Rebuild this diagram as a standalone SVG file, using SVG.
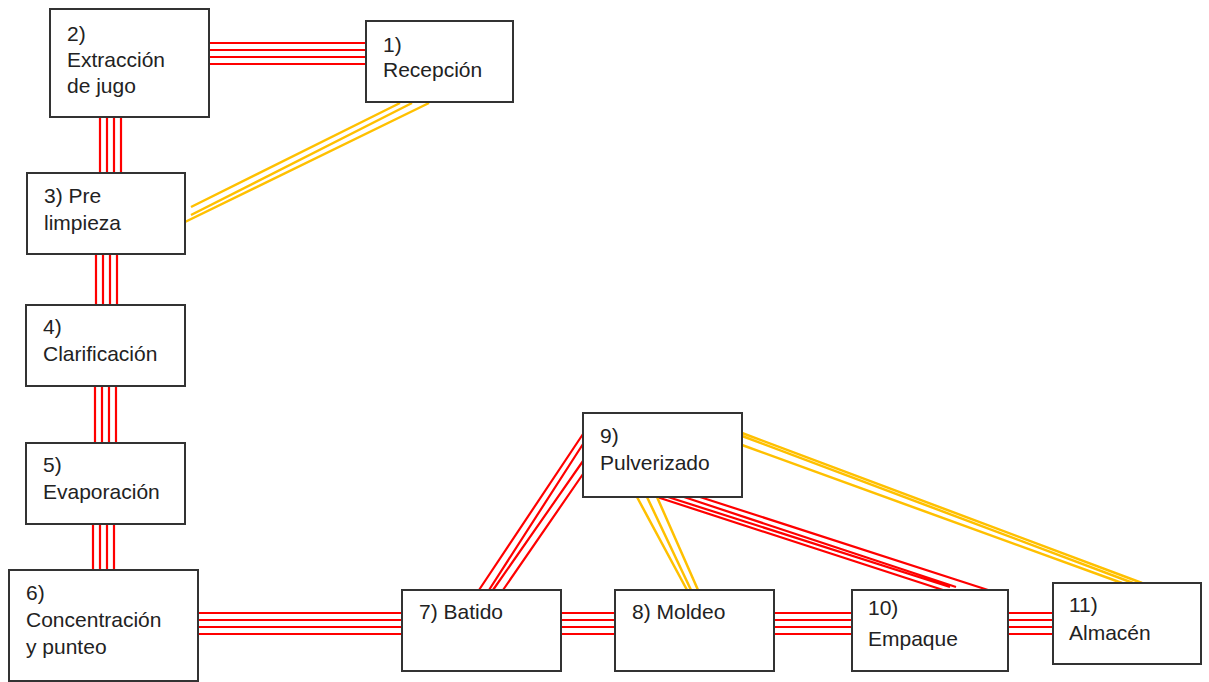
<svg xmlns="http://www.w3.org/2000/svg" width="1209" height="682" viewBox="0 0 1209 682">
<style>
.box{fill:#fff;stroke:#333;stroke-width:2}
.t{font-family:"Liberation Sans",Arial,sans-serif;font-size:21px;fill:#222}
.r{stroke:#ff0000;stroke-width:2.2;fill:none}
.y{stroke:#ffc000;stroke-width:2.5;fill:none}
</style>
<rect width="1209" height="682" fill="#fff"/>
<g id="connectors">
 <path class="r" d="M209 43H366M209 50H366M209 57H366M209 64H366"/>
 <path class="r" d="M100 117V173M107 117V173M114 117V173M121 117V173"/>
 <path class="r" d="M96 254V305M103 254V305M110 254V305M117 254V305"/>
 <path class="r" d="M95 386V443M102 386V443M109 386V443M116 386V443"/>
 <path class="r" d="M93 524V570M100 524V570M107 524V570M114 524V570"/>
 <path class="r" d="M198 613H402M198 620H402M198 627H402M198 634H402"/>
 <path class="r" d="M561 613H615M561 620H615M561 627H615M561 634H615"/>
 <path class="r" d="M774 613H852M774 620H852M774 627H852M774 634H852"/>
 <path class="r" d="M1008 613H1053M1008 620H1053M1008 627H1053M1008 634H1053"/>
 <path class="r" d="M583 434L479 590M583 444L489 590M583 461L493 590M583 474L503 590"/>
 <path class="r" d="M657 497L943 590M668 497L950 587M684 497L956 587M700 497L988 590"/>
 <path class="y" d="M400 103L191 207M412 103L191 215M429 103L185 222"/>
 <path class="y" d="M637 497L687 590M647 497L691 590M657 497L698 590"/>
 <path class="y" d="M742 433L1142 583M742 436L1133 583M742 445L1122 583"/>
</g>
<g id="n2"><rect class="box" x="50" y="9" width="159" height="108"/><text class="t" x="67" y="41">2)</text><text class="t" x="67" y="67">Extracción</text><text class="t" x="67" y="93">de jugo</text></g>
<g id="n1"><rect class="box" x="366" y="21" width="147" height="81"/><text class="t" x="383" y="52">1)</text><text class="t" x="383" y="77">Recepción</text></g>
<g id="n3"><rect class="box" x="27" y="173" width="158" height="81"/><text class="t" x="44" y="203">3) Pre</text><text class="t" x="44" y="230">limpieza</text></g>
<g id="n4"><rect class="box" x="26" y="305" width="159" height="81"/><text class="t" x="43" y="334">4)</text><text class="t" x="43" y="361">Clarificación</text></g>
<g id="n5"><rect class="box" x="26" y="443" width="159" height="81"/><text class="t" x="43" y="472">5)</text><text class="t" x="43" y="499">Evaporación</text></g>
<g id="n6"><rect class="box" x="9" y="570" width="189" height="111"/><text class="t" x="26" y="600">6)</text><text class="t" x="26" y="627">Concentración</text><text class="t" x="26" y="654">y punteo</text></g>
<g id="n7"><rect class="box" x="402" y="590" width="159" height="81"/><text class="t" x="419" y="619">7) Batido</text></g>
<g id="n8"><rect class="box" x="615" y="590" width="159" height="81"/><text class="t" x="632" y="619">8) Moldeo</text></g>
<g id="n9"><rect class="box" x="583" y="413" width="159" height="84"/><text class="t" x="600" y="443">9)</text><text class="t" x="600" y="470">Pulverizado</text></g>
<g id="n10"><rect class="box" x="852" y="590" width="156" height="81"/><text class="t" x="868" y="615">10)</text><text class="t" x="868" y="646">Empaque</text></g>
<g id="n11"><rect class="box" x="1053" y="583" width="148" height="81"/><text class="t" x="1069" y="612">11)</text><text class="t" x="1069" y="640">Almacén</text></g>
</svg>
